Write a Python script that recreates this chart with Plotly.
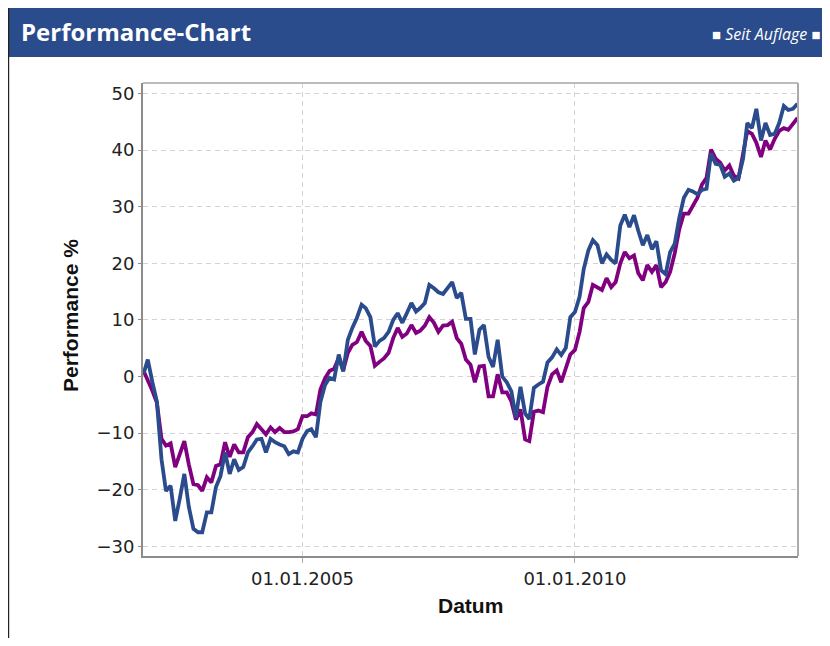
import pandas as pd
import plotly.graph_objects as go

# ---------------- data (monthly, Feb 2002 .. Feb 2014) ----------------
dates = pd.date_range("2002-02-01", periods=145, freq="MS")

fund = [
    0.5, 3.0, -1.0, -4.4, -14.6, -20.2, -19.3, -25.5, -21.6, -17.2,
    -23.0, -26.9, -27.5, -27.5, -24.0, -24.0, -19.5, -17.6, -13.4, -17.2,
    -14.6, -16.5, -16.0, -13.4, -12.3, -11.1, -11.0, -13.4, -11.0, -11.6,
    -12.0, -12.3, -13.7, -13.2, -13.4, -11.0, -9.6, -9.3, -10.7, -4.5,
    -1.5, -0.2, -0.5, 3.9, 0.9, 6.5, 8.6, 10.4, 12.7, 12.1,
    10.5, 5.3, 6.3, 6.8, 7.9, 10.0, 11.2, 9.5, 11.2, 13.0,
    11.5, 12.1, 13.0, 16.2, 15.6, 14.9, 14.6, 15.6, 16.7, 13.9,
    14.8, 10.2, 10.2, 3.9, 8.3, 9.1, 3.5, 1.7, 6.5, 0.0,
    -1.0, -2.6, -7.2, -1.8, -6.5, -7.5, -2.0, -1.4, -0.9, 2.5,
    3.4, 4.8, 3.8, 5.1, 10.5, 11.4, 14.1, 19.0, 22.3, 24.1,
    23.2, 20.0, 21.6, 20.6, 20.0, 26.7, 28.6, 26.4, 28.5, 25.8,
    23.2, 25.0, 22.5, 23.9, 18.8, 18.1, 22.0, 23.5, 28.0, 31.6,
    33.0, 32.7, 32.2, 33.0, 33.2, 39.4, 37.6, 37.4, 35.3, 35.9,
    34.6, 35.1, 38.5, 44.8, 43.9, 47.3, 41.7, 44.8, 42.7, 42.9,
    44.8, 47.8, 47.1, 47.3, 48.2,
]

benchmark = [
    1.0, -0.5, -2.5, -4.6, -11.0, -12.2, -11.8, -16.0, -13.7, -11.4,
    -15.5, -19.0, -19.2, -20.2, -17.8, -18.7, -15.8, -15.5, -11.6, -14.2,
    -12.0, -13.4, -13.4, -10.7, -9.8, -8.4, -9.3, -10.2, -9.0, -9.8,
    -9.1, -9.8, -9.8, -9.7, -9.3, -7.0, -7.0, -6.5, -6.7, -2.3,
    -0.3, 1.0, 1.4, 3.3, 1.1, 4.2, 5.6, 6.1, 7.9, 6.3,
    5.4, 1.9, 2.6, 3.2, 4.2, 6.8, 8.6, 7.0, 7.6, 9.1,
    7.7, 8.1, 9.0, 10.5, 9.5, 7.9, 9.0, 9.1, 9.7, 6.8,
    5.8, 3.0, 2.1, -1.0, 1.8, 1.9, -3.5, -3.5, 0.4, -2.8,
    -2.8, -4.4, -7.6, -5.8, -11.1, -11.4, -6.2, -6.0, -6.3, -1.8,
    0.4, 1.1, -1.0, 1.4, 3.9, 4.7, 7.9, 12.1, 13.2, 16.2,
    15.8, 15.3, 17.4, 15.8, 16.7, 20.0, 22.0, 20.9, 21.4, 18.3,
    17.0, 19.7, 18.5, 19.7, 15.8, 16.7, 18.5, 21.8, 26.0, 28.8,
    28.8, 30.2, 31.6, 33.9, 35.1, 40.1, 38.5, 37.8, 36.4, 37.3,
    35.5, 35.0, 39.5, 43.4, 42.9, 41.3, 38.8, 41.7, 40.1, 42.0,
    43.4, 43.9, 43.6, 44.6, 45.7,
]

y_ticks = [-30, -20, -10, 0, 10, 20, 30, 40, 50]
x_ticks = ["2005-01-01", "2010-01-01"]
x_tick_labels = ["01.01.2005", "01.01.2010"]

# ---------------- layout geometry ----------------
# the page body adds an 8px margin on every side
OFF = 8
W, H = 830 - 2 * OFF, 646 - 2 * OFF
L, T = 143 - OFF, 83 - OFF
R = W - L - 655
B = H - T - 473
PW, PH = W - L - R, H - T - B


def px(x):  # screen x -> paper x
    return (x - OFF - L) / PW


def py(y):  # screen y -> paper y
    return 1 - (y - OFF - T) / PH


BLUE = "#2a4b8c"
PURPLE = "#800080"

fig = go.Figure()
fig.add_trace(go.Scatter(x=dates, y=benchmark, mode="lines",
                         line=dict(color=PURPLE, width=3.8), name="Benchmark"))
fig.add_trace(go.Scatter(x=dates, y=fund, mode="lines",
                         line=dict(color=BLUE, width=3.8), name="Fonds"))

shapes = [
    # header bar
    dict(type="rect", xref="paper", yref="paper", x0=px(8), x1=px(823),
         y0=py(57), y1=py(8), fillcolor="#2a4b8c", line=dict(width=0), layer="above"),
    # outer frame line (left)
    dict(type="line", xref="paper", yref="paper", x0=px(8.6), x1=px(8.6),
         y0=py(8), y1=py(647), line=dict(color="#222222", width=1.2)),
    # plot frame (top/right)
    dict(type="line", xref="paper", yref="paper", x0=0, x1=1, y0=1, y1=1,
         line=dict(color="#bbbbbb", width=2)),
    dict(type="line", xref="paper", yref="paper", x0=1, x1=1, y0=0, y1=1,
         line=dict(color="#aaaaaa", width=2)),
]

annotations = [
    dict(text="<b>Performance-Chart</b>", xref="paper", yref="paper",
         x=px(19), y=py(32), xanchor="left", yanchor="middle", showarrow=False,
         font=dict(family="Open Sans", size=24, color="white")),
    dict(text="<span style='font-size:15px'>■</span> <i>Seit Auflage</i> <span style='font-size:15px'>■</span>",
         xref="paper", yref="paper", x=px(822), y=py(34), xanchor="right",
         yanchor="middle", showarrow=False,
         font=dict(family="Open Sans", size=16, color="white")),
    dict(text="<b>Performance %</b>", xref="paper", yref="paper",
         x=px(70), y=py(316), xanchor="center", yanchor="middle", textangle=-90,
         showarrow=False, font=dict(family="Liberation Sans", size=21, color="#111111")),
    dict(text="<b>Datum</b>", xref="paper", yref="paper",
         x=px(470), y=py(605), xanchor="center", yanchor="middle",
         showarrow=False, font=dict(family="Liberation Sans", size=21, color="#111111")),
]

fig.update_layout(
    width=W, height=H,
    margin=dict(l=L, r=R, t=T, b=B),
    paper_bgcolor="white", plot_bgcolor="white",
    showlegend=False,
    shapes=shapes, annotations=annotations,
    xaxis=dict(
        type="date", range=["2002-01-28", "2014-02-04"],
        tickvals=x_ticks, ticktext=x_tick_labels,
        showgrid=True, gridcolor="#d3d3d3", griddash="5px,4px", gridwidth=1,
        showline=True, linecolor="#8c8c8c", linewidth=2,
        ticks="outside", ticklen=5, tickcolor="#aaaaaa", tickwidth=1,
        tickfont=dict(family="DejaVu Sans", size=18, color="#222222"),
        zeroline=False,
    ),
    yaxis=dict(
        range=[-31.7, 51.87],
        tickvals=y_ticks,
        showgrid=True, gridcolor="#d3d3d3", griddash="5px,4px", gridwidth=1,
        showline=True, linecolor="#8c8c8c", linewidth=2,
        ticks="outside", ticklen=3, tickcolor="#8c8c8c", tickwidth=1,
        tickfont=dict(family="DejaVu Sans", size=18, color="#222222"),
        zeroline=False,
    ),
)

fig.write_html("out.html")
